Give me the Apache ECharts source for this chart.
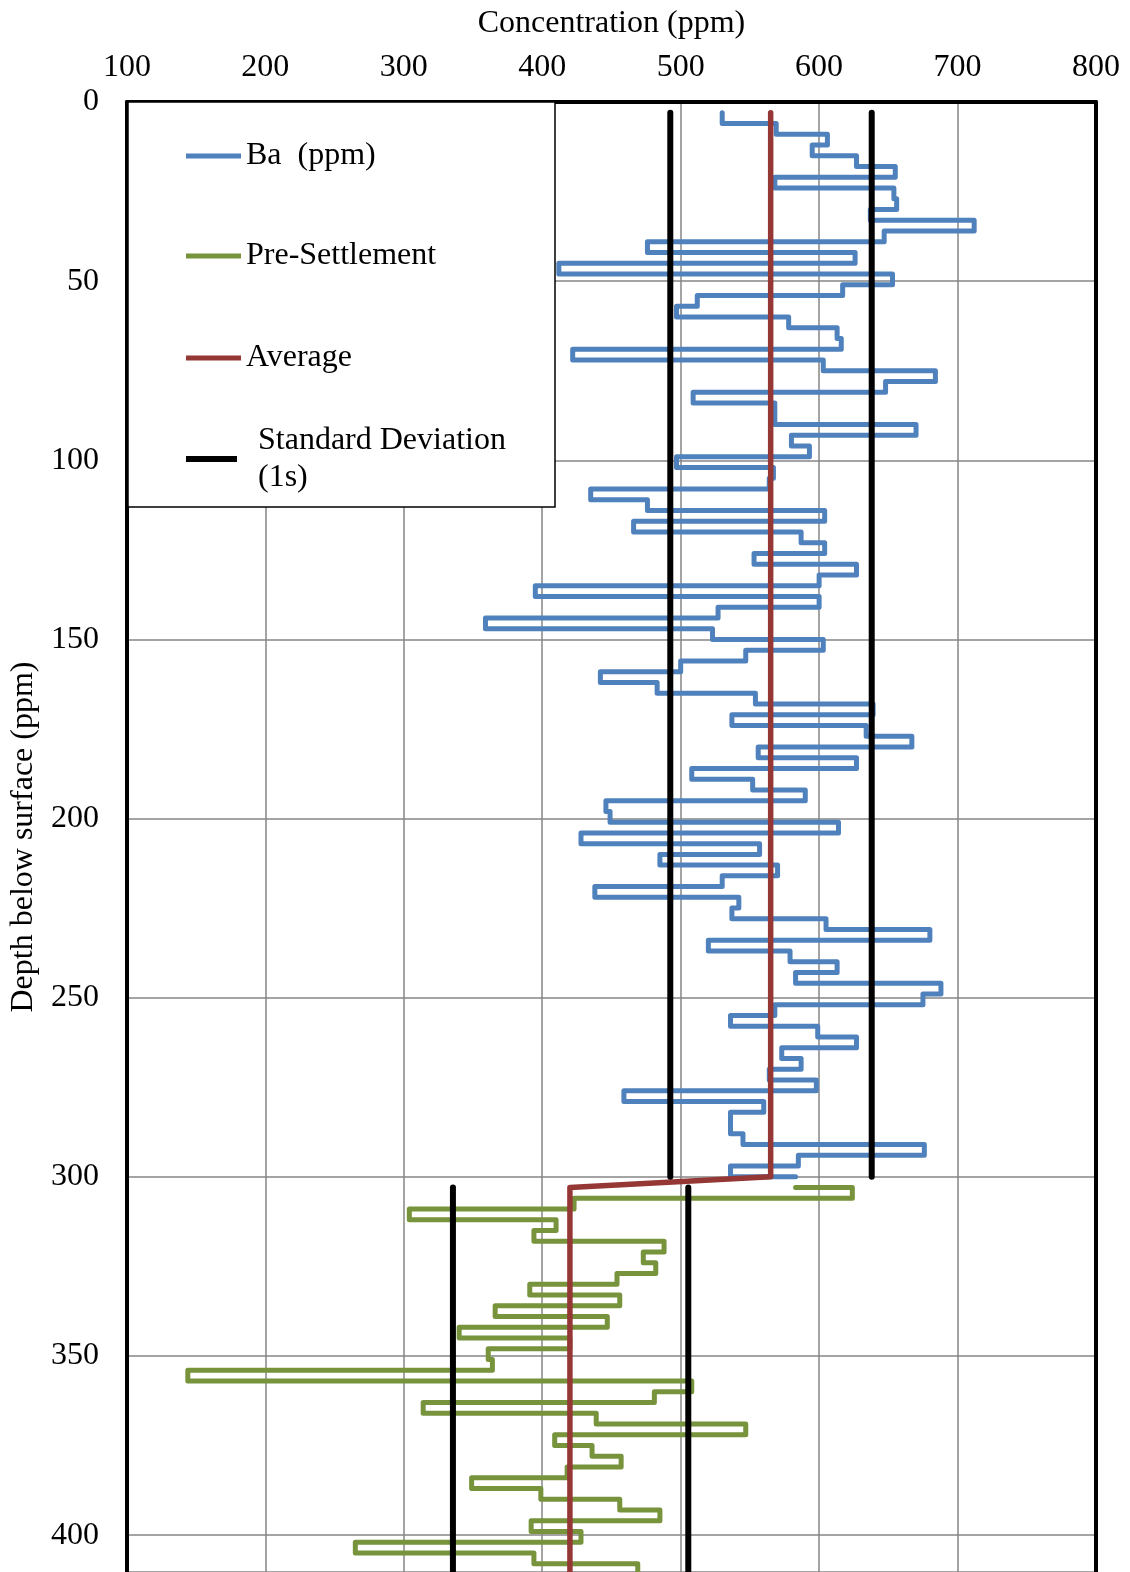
<!DOCTYPE html>
<html><head><meta charset="utf-8">
<script src="https://cdn.jsdelivr.net/npm/echarts@6/dist/echarts.min.js"></script>
<style>html,body{margin:0;padding:0;background:#fff}#c{width:1130px;height:1572px}</style>
</head><body><div id="c"></div><script>
// ---- data ----
const xTicks = [100, 200, 300, 400, 500, 600, 700, 800];
const yTicks = [0, 50, 100, 150, 200, 250, 300, 350, 400];
// sample depth boundaries (sample k spans depthBounds[k-1] .. depthBounds[k])
const depthBounds = [3,6,9,12,15,18,21,24,27,30,33,36,39,42,45,48,51,54,57,60,63,66,69,72,75,78,81,84,87,90,93,96,99,102,105,108,111,114,117,120,123,126,129,132,135,138,141,144,147,150,153,156,159,162,165,168,171,174,177,180,183,186,189,192,195,198,201,204,207,210,213,216,219,222,225,228,231,234,237,240,243,246,249,252,255,258,261,264,267,270,273,276,279,282,285,288,291,294,297,300,303,306,309,312,315,318,321,324,327,330,333,336,339,342,345,348,351,354,357,360,363,366,369,372,375,378,381,384,387,390,393,396,399,402,405,408,411];
// Ba (ppm), samples 1..100
const baValues = [530,569,606,595,627,655,568,654,656,637,712,647,476,626,412,653,617,512,497,578,613,616,422,603,684,648,509,568,568,670,580,593,497,567,564,435,476,604,466,587,604,553,627,600,395,600,527,359,523,603,547,500,442,483,554,639,537,634,667,556,627,508,552,590,446,449,614,428,557,485,570,530,438,542,537,605,680,520,579,613,583,688,675,568,536,599,627,573,587,564,598,459,560,536,536,545,676,585,536,583];
// Pre-Settlement, samples 100..136
const preValues = [583,624,423,304,410,394,488,473,482,454,391,456,366,447,340,420,361,364,144,508,481,314,439,547,409,436,457,418,349,399,456,485,392,428,265,394,469];
const baMean = 565, preMean = 420;
const baSD = [492.5, 638];
const preSD = [335.5, 505.5];

const seriesNames = ['Ba  (ppm)', 'Pre-Settlement', 'Average', 'Standard Deviation (1s)'];
const colors = ['#4F81BD', '#77933C', '#953735', '#000000'];

// ---- build step-profile points ----
const baPts = [];
for (let i = 0; i < baValues.length; i++) {
  baPts.push([baValues[i], depthBounds[i]]);
  if (i < baValues.length - 1) baPts.push([baValues[i], depthBounds[i + 1]]);
}
const preStartIdx = baValues.length;
const prePts = [[preValues[0], depthBounds[preStartIdx]]];
for (let j = 1; j < preValues.length; j++) {
  prePts.push([preValues[j], depthBounds[preStartIdx + j - 1]]);
  prePts.push([preValues[j], depthBounds[preStartIdx + j]]);
}
const baTop = depthBounds[0], baBot = depthBounds[baValues.length - 1];
const preTop = depthBounds[preStartIdx], preBot = depthBounds[depthBounds.length - 1];
const avgPts = [[baMean, baTop], [baMean, baBot], [preMean, preTop], [preMean, preBot]];

const FONT = 'Liberation Serif';
const FS = 32;
const chart = echarts.init(document.getElementById('c'), null, {renderer: 'canvas'});

function lineSeries(name, data, color, width, z) {
  return {
    name: name, type: 'line', data: data, symbol: 'none', color: color,
    lineStyle: {color: color, width: width, cap: 'round', join: 'round'},
    z: z, animation: false, silent: true
  };
}

const series = [
  lineSeries(seriesNames[0], baPts, colors[0], 5, 2),
  lineSeries(seriesNames[1], prePts, colors[1], 5, 2),
  lineSeries(seriesNames[2], avgPts, colors[2], 5.5, 3),
];
[[baSD[0], baTop, baBot], [baSD[1], baTop, baBot], [preSD[0], preTop, preBot], [preSD[1], preTop, preBot]].forEach(s => {
  series.push(lineSeries(seriesNames[3], [[s[0], s[1]], [s[0], s[2]]], colors[3], 6, 4));
});

function legendFor(name, top, opts) {
  return Object.assign({
    data: [name], left: 186, top: top, padding: 0, orient: 'vertical',
    icon: 'rect', itemWidth: 55, itemHeight: 5, selectedMode: false, z: 5,
    textStyle: {fontFamily: FONT, fontSize: FS, color: '#000'}
  }, opts || {});
}

const option = {
  animation: false,
  backgroundColor: '#fff',
  grid: {left: 126, right: 34, top: 102, bottom: 0, containLabel: false},
  xAxis: {
    type: 'value', position: 'top', min: xTicks[0], max: xTicks[xTicks.length - 1], interval: 100,
    name: 'Concentration (ppm)', nameLocation: 'middle', nameGap: 62,
    nameTextStyle: {fontFamily: FONT, fontSize: FS, color: '#000'},
    axisLine: {show: true, onZero: false, lineStyle: {color: '#000', width: 4}},
    axisTick: {show: false},
    axisLabel: {fontFamily: FONT, fontSize: FS, color: '#000', margin: 18},
    splitLine: {show: true, lineStyle: {color: '#868686', width: 1.5}}
  },
  yAxis: [{
    type: 'value', inverse: true, min: yTicks[0], max: 410.3, interval: 50,
    name: 'Depth below surface (ppm)', nameLocation: 'middle', nameGap: 78,
    nameTextStyle: {fontFamily: FONT, fontSize: FS, color: '#000'},
    axisLine: {show: true, onZero: false, lineStyle: {color: '#000', width: 4}},
    axisTick: {show: false},
    axisLabel: {fontFamily: FONT, fontSize: FS, color: '#000', margin: 28, showMaxLabel: false,
      padding: [4, 0, 0, 0],
      formatter: v => (yTicks.indexOf(v) >= 0 ? String(v) : '')},
    splitLine: {show: true, lineStyle: {color: '#868686', width: 1.5}}
  }, {
    type: 'value', inverse: true, min: yTicks[0], max: 410.3, interval: 50, position: 'right',
    axisLine: {show: true, onZero: false, lineStyle: {color: '#000', width: 4}},
    axisTick: {show: false}, axisLabel: {show: false}, splitLine: {show: false}
  }],
  legend: [
    legendFor(seriesNames[0], 140),
    legendFor(seriesNames[1], 240),
    legendFor(seriesNames[2], 342),
    legendFor(seriesNames[3], 421, {
      itemWidth: 51, itemHeight: 6,
      formatter: () => 'Standard Deviation\n(1s)',
      textStyle: {fontFamily: FONT, fontSize: FS, color: '#000', lineHeight: 37, padding: [2, 0, 0, 16]}
    })
  ],
  graphic: [{
    type: 'rect', z: 3, silent: true,
    shape: {x: 128, y: 102, width: 427, height: 405},
    style: {fill: '#fff', stroke: '#000', lineWidth: 1.5}
  }],
  series: series
};
chart.setOption(option);
</script></body></html>
